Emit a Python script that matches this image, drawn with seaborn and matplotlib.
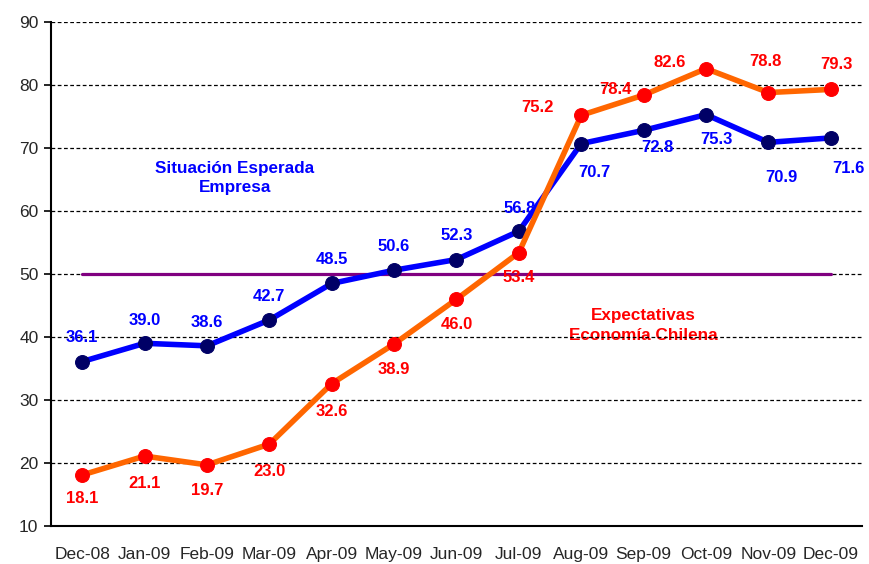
import pandas as pd
import matplotlib
matplotlib.use("Agg")
import matplotlib.pyplot as plt
import seaborn as sns

# Data
months = ['Dec-08', 'Jan-09', 'Feb-09', 'Mar-09', 'Apr-09', 'May-09', 'Jun-09',
          'Jul-09', 'Aug-09', 'Sep-09', 'Oct-09', 'Nov-09', 'Dec-09']
empresa = [36.1, 39.0, 38.6, 42.7, 48.5, 50.6, 52.3, 56.8, 70.7, 72.8, 75.3, 70.9, 71.6]
economia = [18.1, 21.1, 19.7, 23.0, 32.6, 38.9, 46.0, 53.4, 75.2, 78.4, 82.6, 78.8, 79.3]
neutral = 50
yticks = [10, 20, 30, 40, 50, 60, 70, 80, 90]

df = pd.DataFrame({'pos': range(len(months)), 'month': months,
                   'empresa': empresa, 'economia': economia})

# label offsets (pixels, x right / y down) for each data label
off_emp = [(0, -24), (0, -23), (0, -23), (0, -23), (0, -24), (0, -24), (0, -24),
           (1, -23), (13, 29), (14, 17), (10, 25), (13, 35), (18, 31)]
off_eco = [(0, 24), (0, 27), (0, 26), (0, 27), (0, 28), (0, 26), (0, 25),
           (0, 25), (-44, -8), (-28, -6), (-36, -6), (-3, -31), (6, -25)]

sns.set_style("white")
plt.rcParams['font.family'] = ['Liberation Sans', 'DejaVu Sans']

fig = plt.figure(figsize=(8.7, 5.64), dpi=100)
ax = fig.add_axes([51 / 870, 1 - 526 / 564, 811 / 870, 504 / 564])

# dashed gridlines
for y in yticks[1:]:
    ax.axhline(y, color='black', lw=0.9, ls=(0, (3, 2)), zorder=1)

# neutral line at 50
ax.plot([0, len(months) - 1], [neutral, neutral], color='#800080', lw=2.3, zorder=2)

sns.lineplot(data=df, x='pos', y='empresa', color='#0000ff', lw=4, marker='o',
             markersize=10, markerfacecolor='#000066', markeredgecolor='#000066',
             ax=ax, zorder=3)
sns.lineplot(data=df, x='pos', y='economia', color='#ff6600', lw=4, marker='o',
             markersize=10, markerfacecolor='#ff0000', markeredgecolor='#ff0000',
             ax=ax, zorder=4)

px = 0.72  # points per pixel
for i, v in enumerate(empresa):
    ax.annotate(f'{v:.1f}', (i, v), xytext=(off_emp[i][0] * px, -off_emp[i][1] * px),
                textcoords='offset points', ha='center', va='center',
                color='#0000ff', fontsize=12, fontweight='bold', zorder=3.5)
for i, v in enumerate(economia):
    ax.annotate(f'{v:.1f}', (i, v), xytext=(off_eco[i][0] * px, -off_eco[i][1] * px),
                textcoords='offset points', ha='center', va='center',
                color='#ff0000', fontsize=12, fontweight='bold', zorder=3.5)

ax.text(2.45, 65.2, 'Situación Esperada\nEmpresa', ha='center', va='center',
        color='#0000ff', fontsize=12.3, fontweight='bold', linespacing=1.3, zorder=0.5)
ax.text(9.0, 41.8, 'Expectativas\nEconomía Chilena', ha='center', va='center',
        color='#ff0000', fontsize=12.3, fontweight='bold', linespacing=1.4, zorder=0.5)

ax.set_xlim(-0.5, len(months) - 0.5)
ax.set_ylim(10, 90)
ax.set_yticks(yticks)
ax.set_xticks(range(len(months)))
ax.set_xticklabels(months)
ax.set_xticks([i - 0.5 for i in range(len(months) + 1)], minor=True)
ax.tick_params(axis='x', which='major', length=0, pad=15, labelsize=12.5)
ax.tick_params(axis='x', which='minor', length=6, width=1.2, color='black', direction='out')
ax.tick_params(axis='y', length=5, width=1.2, color='black', direction='out', pad=4,
               labelsize=12.5, left=True)
ax.set_xlabel('')
ax.set_ylabel('')

for s in ['top', 'right']:
    ax.spines[s].set_visible(False)
for s in ['left', 'bottom']:
    ax.spines[s].set_color('black')
    ax.spines[s].set_linewidth(1.5)

fig.savefig('out.png', dpi=100)
